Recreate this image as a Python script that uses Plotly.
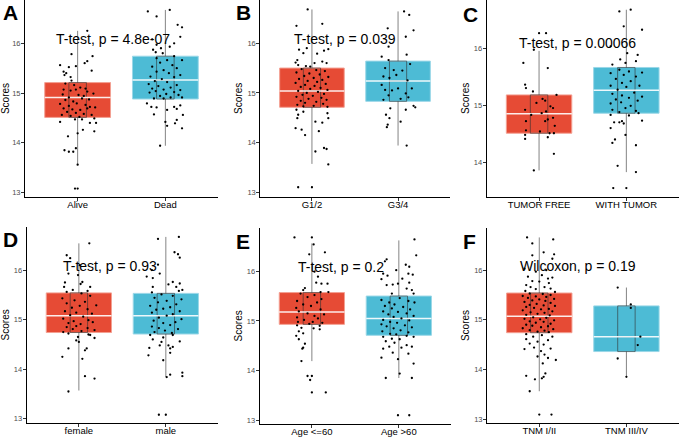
import plotly.graph_objects as go

W, H = 685, 445
RED = "#E64B35"
BLUE = "#4DBBD5"
RED_EDGE = "#F3A093"
BLUE_EDGE = "#9AD7E7"
FONT = "Liberation Sans, Arial, sans-serif"

# ---------------- Panel A ----------------
A_labels = ["Alive", "Dead"]
A_q1 = [14.51, 14.88]
A_med = [14.91, 15.26]
A_q3 = [15.21, 15.74]
A_lo = [13.55, 13.94]
A_hi = [16.25, 16.67]
A_test = "T-test, p = 4.8e-07"
A_g1 = [(16.25, 0.11), (15.78, -0.07), (15.74, 0.17), (15.64, 0.11), (15.60, 0.08), (15.56, -0.20), (15.54, -0.02),
        (15.52, -0.10), (15.43, -0.16), (15.40, -0.13), (15.36, -0.15), (15.45, 0.16), (15.32, -0.08), (15.25, -0.07),
        (15.19, -0.14), (15.16, -0.04), (15.11, 0.03), (15.09, 0.09), (15.07, -0.16), (15.05, -0.08), (15.07, -0.02),
        (15.03, 0.11), (14.99, 0.18), (14.97, -0.17), (14.96, 0.01), (14.94, 0.07), (14.91, -0.10), (14.89, 0.05),
        (14.87, 0.13), (14.86, -0.14), (14.83, -0.05), (14.79, -0.01), (14.78, -0.20), (14.76, 0.09), (14.74, -0.10),
        (14.72, 0.14), (14.71, 0.20), (14.69, -0.16), (14.67, -0.06), (14.66, 0.03), (14.69, 0.11), (14.62, -0.12),
        (14.60, -0.02), (14.58, 0.07), (14.56, -0.18), (14.54, -0.08), (14.56, 0.16), (14.52, 0.02),
        (14.47, -0.03), (14.47, 0.05), (14.49, 0.19), (14.40, 0.14), (14.42, -0.20), (14.40, 0.21), (14.26, 0.06),
        (14.23, 0.19), (14.19, 0.00), (14.13, -0.11), (13.85, -0.15), (13.82, -0.10), (13.82, -0.05), (13.89, -0.02),
        (13.56, 0.00), (13.08, -0.03), (13.08, 0.00)]
A_g2 = [(16.64, -0.20), (16.67, 0.05), (16.54, -0.10), (16.37, 0.14), (16.32, 0.19), (16.13, 0.17), (16.08, -0.15),
        (15.97, -0.10), (16.00, 0.10), (15.90, -0.05), (15.93, 0.05), (15.87, -0.14), (15.80, -0.03), (15.82, -0.11),
        (15.74, 0.10), (15.66, 0.19),
        (15.70, -0.10), (15.66, 0.02), (15.61, -0.06), (15.56, 0.08), (15.53, -0.15), (15.50, 0.13), (15.46, -0.02),
        (15.43, -0.10), (15.40, 0.04), (15.36, 0.17), (15.33, -0.17), (15.32, 0.10), (15.28, -0.04), (15.24, -0.12),
        (15.22, 0.02), (15.18, -0.19), (15.16, 0.13), (15.14, -0.08), (15.11, 0.06), (15.09, -0.15), (15.07, -0.02),
        (15.06, 0.17), (15.04, -0.11), (15.02, 0.10), (15.01, -0.18), (14.98, 0.01), (14.96, 0.15), (14.94, -0.06),
        (14.91, 0.06), (14.89, -0.13), (14.91, 0.19), (14.89, -0.02),
        (14.79, -0.21), (14.72, -0.16), (14.71, -0.10), (14.72, 0.10), (14.75, 0.17), (14.68, 0.13), (14.66, 0.02),
        (14.56, 0.20), (14.57, -0.13), (14.46, 0.13), (14.42, 0.00), (14.34, 0.02), (14.39, 0.11), (14.29, 0.19),
        (13.94, -0.06)]

# ---------------- Panel B ----------------
B_labels = ["G1/2", "G3/4"]
B_q1 = [14.71, 14.83]
B_med = [15.04, 15.24]
B_q3 = [15.50, 15.64]
B_lo = [13.57, 13.94]
B_hi = [16.68, 16.64]
B_test = "T-test, p = 0.039"
B_g1 = [(16.68, -0.05), (16.35, -0.18), (16.39, 0.12), (15.87, -0.15), (15.90, -0.06), (15.85, 0.14), (15.88, 0.19),
        (15.80, -0.10), (15.79, 0.06), (15.66, -0.17), (15.61, -0.19), (15.56, -0.16), (15.60, 0.03), (15.63, 0.12),
        (15.60, 0.17), (15.54, -0.07), (15.53, -0.02),
        (15.48, -0.12), (15.46, 0.05), (15.44, 0.15), (15.41, -0.18), (15.39, -0.03), (15.37, 0.09), (15.34, -0.09),
        (15.32, 0.19), (15.30, 0.02), (15.28, -0.15), (15.26, 0.12), (15.24, -0.05), (15.22, 0.06), (15.20, -0.19),
        (15.18, 0.16), (15.16, -0.08), (15.14, 0.03), (15.12, -0.13), (15.10, 0.10), (15.08, -0.02), (15.06, 0.18),
        (15.04, -0.16), (15.02, 0.07), (15.00, -0.06), (14.98, 0.14), (14.96, -0.11), (14.94, 0.01), (14.92, -0.18),
        (14.90, 0.11), (14.88, -0.04), (14.86, 0.17), (14.84, -0.13), (14.82, 0.05), (14.80, -0.08), (14.78, 0.13),
        (14.76, -0.17), (14.74, 0.02), (14.73, -0.10), (14.72, 0.18),
        (14.66, -0.18), (14.62, -0.10), (14.56, -0.16), (14.59, 0.18), (14.49, -0.17), (14.49, 0.19), (14.42, 0.04),
        (14.40, 0.12), (14.29, -0.19), (14.26, -0.12), (14.15, -0.08), (14.23, 0.08), (13.89, 0.14), (13.87, 0.17),
        (13.82, 0.04), (13.56, 0.19), (13.10, -0.16), (13.10, 0.00)]
B_g2 = [(16.64, 0.07), (16.57, 0.13), (16.26, 0.18), (16.30, -0.12), (16.13, 0.09), (15.93, -0.11), (15.77, 0.10),
        (15.73, -0.19), (15.66, -0.11),
        (15.58, 0.14), (15.50, -0.15), (15.46, -0.05), (15.45, 0.05), (15.33, -0.17), (15.30, -0.10), (15.36, -0.02),
        (15.25, 0.11), (15.16, -0.19), (15.09, 0.00), (15.09, 0.16), (15.06, -0.15), (15.05, -0.07), (14.99, 0.09),
        (14.95, -0.11), (14.86, -0.17), (14.88, 0.03), (14.91, 0.12),
        (14.74, 0.18), (14.71, 0.20), (14.69, -0.09), (14.66, 0.09), (14.56, -0.14), (14.49, -0.10), (14.42, 0.03),
        (14.36, -0.12), (14.31, -0.13), (13.94, 0.10)]

# ---------------- Panel C ----------------
C_labels = ["TUMOR FREE", "WITH TUMOR"]
C_q1 = [14.51, 14.86]
C_med = [14.85, 15.26]
C_q3 = [15.18, 15.66]
C_lo = [13.86, 13.83]
C_hi = [15.95, 16.67]
C_test = "T-test, p = 0.00066"
C_g1 = [(16.26, 0.00), (16.26, 0.08), (15.97, -0.06), (15.74, -0.18), (15.65, 0.10), (15.36, -0.16), (15.30, -0.15),
        (15.24, -0.07), (15.18, 0.20), (15.11, 0.04), (15.08, 0.07), (15.04, -0.03), (14.98, 0.13), (14.95, 0.16),
        (14.92, -0.16), (14.89, 0.08), (14.86, 0.03), (14.83, -0.09), (14.78, 0.16), (14.72, 0.07), (14.75, 0.10),
        (14.72, -0.15), (14.64, 0.18), (14.56, -0.15), (14.51, 0.12), (14.51, 0.17), (14.54, 0.01), (14.48, -0.16),
        (14.41, -0.16), (14.44, 0.10), (14.15, 0.17), (13.86, -0.06)]
C_g2 = [(16.64, -0.08), (16.67, 0.05), (16.38, -0.03), (16.32, 0.18), (16.03, -0.18), (15.91, 0.01), (15.88, 0.13),
        (15.80, -0.07), (15.77, 0.11), (15.74, -0.01), (15.71, -0.16),
        (15.62, -0.08), (15.59, 0.03), (15.57, 0.18), (15.56, -0.18), (15.53, -0.03), (15.50, 0.11), (15.46, -0.12),
        (15.42, 0.05), (15.39, -0.05), (15.34, -0.18), (15.34, 0.15), (15.32, 0.00), (15.27, -0.10), (15.22, 0.09),
        (15.20, -0.16), (15.17, -0.05), (15.15, 0.18), (15.13, 0.03), (15.10, -0.12), (15.08, 0.13), (15.05, -0.06),
        (15.03, -0.18), (14.99, 0.05), (14.95, -0.01), (14.92, -0.16), (14.90, 0.11), (14.88, -0.08),
        (14.83, -0.18), (14.82, 0.03), (14.86, 0.14), (14.73, 0.18), (14.70, -0.14), (14.70, -0.08), (14.72, -0.05),
        (14.68, -0.03), (14.60, -0.18), (14.40, -0.13), (14.48, -0.01), (14.34, -0.16), (14.30, 0.11), (13.83, 0.11),
        (13.94, -0.10), (13.55, -0.15), (13.55, 0.00)]

# ---------------- Panel D ----------------
D_labels = ["female", "male"]
D_q1 = [14.74, 14.71]
D_med = [15.08, 15.08]
D_q3 = [15.54, 15.53]
D_lo = [13.57, 13.84]
D_hi = [16.54, 16.67]
D_test = "T-test, p = 0.93"
D_g1 = [(16.54, 0.12), (16.30, -0.14), (16.24, -0.10), (16.10, 0.01), (15.93, -0.12), (15.90, -0.01), (15.76, 0.04),
        (15.75, -0.16), (15.72, 0.02), (15.66, 0.13), (15.66, -0.17), (15.60, -0.07), (15.58, 0.10),
        (15.56, -0.14), (15.53, 0.03), (15.48, 0.13), (15.43, -0.19), (15.39, -0.05), (15.36, 0.07), (15.33, -0.14),
        (15.29, 0.20), (15.28, 0.01), (15.24, -0.08), (15.21, 0.10), (15.17, -0.16), (15.14, -0.03), (15.12, 0.15),
        (15.09, -0.10), (15.06, 0.05), (15.02, -0.18), (14.99, 0.11), (14.97, -0.06), (14.95, 0.16), (14.93, -0.12),
        (14.91, 0.02), (14.87, -0.03), (14.85, -0.14), (14.83, 0.10), (14.81, -0.07), (14.79, 0.18), (14.77, 0.03),
        (14.75, -0.18),
        (14.72, -0.12), (14.70, 0.11), (14.69, 0.13), (14.63, 0.18), (14.65, -0.01), (14.58, -0.03), (14.55, 0.00),
        (14.38, 0.07), (14.42, 0.09), (14.42, -0.12), (14.25, -0.19), (14.21, 0.04), (13.86, 0.07), (13.81, 0.18),
        (13.55, -0.12)]
D_g2 = [(16.63, -0.09), (16.67, 0.15), (16.36, 0.10), (16.32, 0.14), (16.25, 0.16), (16.11, -0.09), (16.00, -0.16),
        (15.93, -0.07), (15.87, -0.22), (15.84, -0.15), (15.76, 0.08), (15.73, 0.16), (15.71, 0.03), (15.66, 0.12),
        (15.66, -0.15), (15.60, 0.19), (15.58, 0.15), (15.55, -0.16),
        (15.51, -0.05), (15.48, 0.08), (15.44, -0.13), (15.41, 0.18), (15.38, 0.01), (15.35, -0.09), (15.31, 0.12),
        (15.28, -0.18), (15.25, 0.05), (15.22, -0.03), (15.20, -0.11), (15.17, 0.16), (15.14, -0.16), (15.11, 0.08),
        (15.08, 0.01), (15.04, -0.08), (15.01, 0.18), (14.98, -0.14), (14.95, 0.11), (14.93, -0.03), (14.89, 0.05),
        (14.86, -0.16), (14.83, -0.08), (14.81, 0.14), (14.78, -0.01), (14.75, -0.13), (14.73, 0.07),
        (14.69, -0.18), (14.69, 0.08), (14.64, -0.03), (14.60, -0.15), (14.55, -0.05), (14.56, 0.16), (14.48, -0.07),
        (14.48, 0.03), (14.45, 0.08), (14.43, -0.19), (14.42, 0.05), (14.28, -0.20), (14.33, 0.05), (14.18, -0.03),
        (13.89, 0.05), (13.93, 0.19), (13.86, 0.19), (13.84, 0.01), (13.08, -0.08), (13.08, 0.00)]

# ---------------- Panel E ----------------
E_labels = ["Age <=60", "Age >60"]
E_q1 = [14.93, 14.71]
E_med = [15.18, 15.05]
E_q3 = [15.57, 15.50]
E_lo = [14.19, 13.85]
E_hi = [16.56, 16.62]
E_test = "T-test, p = 0.2"
E_g1 = [(16.68, -0.20), (16.68, 0.00), (16.54, 0.02), (16.38, 0.15), (16.34, -0.03), (15.99, 0.03), (15.89, 0.07),
        (15.77, 0.05), (15.75, 0.18), (15.75, 0.11), (15.66, -0.08), (15.62, -0.10), (15.58, 0.10), (15.58, 0.19),
        (15.55, -0.13), (15.52, 0.03), (15.48, -0.05), (15.44, 0.11), (15.40, -0.17), (15.37, 0.06), (15.33, -0.10),
        (15.30, -0.01), (15.26, -0.18), (15.23, 0.10), (15.19, -0.15), (15.15, -0.05), (15.13, 0.14), (15.10, 0.03),
        (15.07, -0.17), (15.05, 0.07), (15.02, -0.09), (14.98, -0.16), (14.98, 0.01), (14.96, 0.12), (14.94, -0.03),
        (14.91, -0.17), (14.90, 0.09), (14.86, -0.12), (14.85, 0.02), (14.79, -0.15), (14.83, 0.09), (14.75, -0.10),
        (14.70, -0.18), (14.63, -0.15), (14.54, -0.08), (14.46, -0.10), (14.44, -0.11), (14.19, -0.12),
        (13.89, -0.05), (13.89, 0.00), (13.81, -0.02), (13.56, 0.00), (13.56, 0.16)]
E_g2 = [(16.64, 0.18), (16.24, -0.14), (16.20, -0.16), (16.32, 0.20), (16.13, 0.08), (16.09, 0.12), (15.95, -0.18),
        (15.91, -0.13), (16.02, -0.03), (15.95, 0.11), (15.93, 0.16), (15.84, -0.20), (15.73, -0.07), (15.75, -0.01),
        (15.85, 0.04), (15.77, 0.12), (15.72, -0.14), (15.65, 0.09), (15.62, 0.15), (15.55, 0.17), (15.55, -0.08),
        (15.42, -0.20), (15.46, 0.01), (15.40, 0.11), (15.37, -0.11), (15.37, 0.18), (15.33, -0.05), (15.30, -0.16),
        (15.28, 0.05), (15.25, -0.08), (15.23, 0.13), (15.19, -0.18), (15.18, -0.01), (15.15, 0.09), (15.13, -0.12),
        (15.10, 0.17), (15.08, -0.06), (15.05, 0.03), (15.02, -0.18), (15.01, 0.12), (14.98, -0.10), (14.96, -0.02),
        (14.93, -0.20), (14.91, 0.07), (14.89, -0.14), (14.87, 0.15), (14.85, -0.06), (14.81, 0.02), (14.79, -0.19),
        (14.77, 0.11), (14.74, -0.10), (14.73, -0.03),
        (14.68, -0.18), (14.70, 0.09), (14.68, 0.17), (14.64, -0.08), (14.63, 0.01), (14.59, -0.15), (14.56, -0.05),
        (14.51, 0.09), (14.48, -0.11), (14.48, 0.15), (14.44, -0.18), (14.46, 0.03), (14.36, -0.07), (14.34, 0.11),
        (14.26, -0.20), (14.23, -0.01), (14.14, 0.17), (13.85, -0.15), (13.85, 0.15), (13.94, 0.01), (13.10, -0.01),
        (13.10, 0.12)]

# ---------------- Panel F ----------------
F_labels = ["TNM I/II", "TNM III/IV"]
F_q1 = [14.74, 14.36]
F_med = [15.07, 14.66]
F_q3 = [15.54, 15.28]
F_lo = [13.56, 13.85]
F_hi = [16.66, 15.65]
F_test = "Wilcoxon, p = 0.19"
F_g1 = [(16.66, -0.14), (16.62, 0.16), (16.54, -0.08), (16.36, 0.05), (16.32, 0.17), (16.23, 0.15), (16.30, -0.08),
        (16.03, -0.17), (15.97, -0.04), (16.00, 0.08), (15.90, 0.03), (15.87, -0.13), (15.83, 0.10), (15.85, 0.15),
        (15.78, -0.08), (15.77, 0.00), (15.74, 0.11), (15.70, -0.15), (15.66, -0.10), (15.66, 0.06), (15.63, 0.13),
        (15.62, -0.04), (15.58, -0.16), (15.56, 0.18),
        (15.53, -0.11), (15.52, 0.04), (15.50, 0.13), (15.48, -0.19), (15.47, -0.04), (15.46, 0.08), (15.44, -0.13),
        (15.42, 0.17), (15.41, 0.00), (15.39, -0.08), (15.38, 0.07), (15.36, -0.17), (15.34, 0.13), (15.32, -0.03),
        (15.30, -0.11), (15.29, 0.05), (15.28, 0.18), (15.26, -0.15), (15.24, -0.06), (15.22, 0.11), (15.21, 0.02),
        (15.19, -0.19), (15.17, 0.15), (15.15, -0.10), (15.14, 0.06), (15.12, -0.02), (15.10, -0.15), (15.09, 0.12),
        (15.05, -0.07), (15.04, 0.08), (15.02, -0.17), (15.01, 0.01), (14.99, 0.17), (14.97, -0.11), (14.96, 0.05),
        (14.94, -0.04), (14.92, 0.13), (14.90, -0.15), (14.88, -0.08), (14.87, 0.10), (14.85, 0.02), (14.83, -0.19),
        (14.81, 0.16), (14.79, -0.11), (14.78, 0.06), (14.76, -0.02), (14.75, 0.11),
        (14.71, -0.15), (14.69, 0.03), (14.66, -0.07), (14.66, 0.15), (14.61, -0.15), (14.59, 0.10), (14.56, -0.02),
        (14.52, -0.11), (14.50, 0.05), (14.44, -0.06), (14.41, -0.17), (14.42, 0.13), (14.37, 0.02), (14.30, 0.06),
        (14.26, -0.02), (14.23, 0.10), (14.19, 0.19), (14.12, 0.04), (13.92, 0.07), (13.85, 0.05), (13.82, 0.03),
        (13.87, -0.15), (13.80, -0.05), (13.56, -0.11), (13.09, 0.00), (13.09, 0.14)]
F_g2 = [(15.65, -0.10), (15.31, 0.05), (15.24, 0.05), (14.66, 0.16), (14.49, 0.13), (14.22, -0.10), (13.85, 0.00)]

# ---------------- layout geometry (pixels) ----------------
panels = [
    dict(letter="A", labels=A_labels, q1=A_q1, med=A_med, q3=A_q3, lo=A_lo, hi=A_hi, test=A_test, g=[A_g1, A_g2],
         px=(25, 218), py=(0, 197), yr=(12.91, 16.87), yt=[13, 14, 15, 16], tx=-0.27, lx=1, ly=3),
    dict(letter="B", labels=B_labels, q1=B_q1, med=B_med, q3=B_q3, lo=B_lo, hi=B_hi, test=B_test, g=[B_g1, B_g2],
         px=(260.3, 449.7), py=(0, 196.7), yr=(12.91, 16.87), yt=[13, 14, 15, 16], tx=-0.23, lx=234, ly=3),
    dict(letter="C", labels=C_labels, q1=C_q1, med=C_med, q3=C_q3, lo=C_lo, hi=C_hi, test=C_test, g=[C_g1, C_g2],
         px=(486.7, 678.7), py=(0, 196.7), yr=(13.40, 16.84), yt=[14, 15, 16], tx=-0.25, lx=461, ly=5),
    dict(letter="D", labels=D_labels, q1=D_q1, med=D_med, q3=D_q3, lo=D_lo, hi=D_hi, test=D_test, g=[D_g1, D_g2],
         px=(26.7, 218), py=(227, 422.7), yr=(12.92, 16.87), yt=[13, 14, 15, 16], tx=-0.21, lx=1, ly=230),
    dict(letter="E", labels=E_labels, q1=E_q1, med=E_med, q3=E_q3, lo=E_lo, hi=E_hi, test=E_test, g=[E_g1, E_g2],
         px=(259.7, 451), py=(228, 423.7), yr=(12.93, 16.87), yt=[13, 14, 15, 16], tx=-0.18, lx=234, ly=232),
    dict(letter="F", labels=F_labels, q1=F_q1, med=F_med, q3=F_q3, lo=F_lo, hi=F_hi, test=F_test, g=[F_g1, F_g2],
         px=(487, 678.7), py=(228, 423), yr=(12.92, 16.85), yt=[13, 14, 15, 16], tx=-0.25, lx=461, ly=232),
]

WIDE = 0.75
NARROW = 0.2
cats = [0, 1]

fig = go.Figure()
annotations = []
layout_axes = {}

for k, p in enumerate(panels, start=1):
    xa = "x" if k == 1 else f"x{k}"
    ya = "y" if k == 1 else f"y{k}"
    # wide coloured quartile band
    fig.add_trace(go.Bar(
        x=cats, y=[b - a for a, b in zip(p["q1"], p["q3"])], base=p["q1"], width=WIDE,
        marker=dict(color=[RED, BLUE], line=dict(color=[RED_EDGE, BLUE_EDGE], width=1)),
        xaxis=xa, yaxis=ya, hoverinfo="skip", showlegend=False))
    # white median line on band
    mx, my = [], []
    for c, m in zip(cats, p["med"]):
        mx += [c - WIDE / 2, c + WIDE / 2, None]
        my += [m, m, None]
    fig.add_trace(go.Scatter(x=mx, y=my, mode="lines", line=dict(color="rgba(255,255,255,0.9)", width=1.5),
                             xaxis=xa, yaxis=ya, hoverinfo="skip", showlegend=False))
    # narrow boxplot
    fig.add_trace(go.Box(
        x=cats, q1=p["q1"], median=p["med"], q3=p["q3"], lowerfence=p["lo"], upperfence=p["hi"],
        width=NARROW, whiskerwidth=0, boxpoints=False, fillcolor="rgba(0,0,0,0)",
        line=dict(color="rgba(50,50,50,0.6)", width=1),
        xaxis=xa, yaxis=ya, hoverinfo="skip", showlegend=False))
    # jittered points
    px_, py_ = [], []
    for c, grp in zip(cats, p["g"]):
        for yv, dx in grp:
            px_.append(c + dx)
            py_.append(yv)
    fig.add_trace(go.Scatter(x=px_, y=py_, mode="markers", marker=dict(color="black", size=2.3),
                             xaxis=xa, yaxis=ya, hoverinfo="skip", showlegend=False))

    x0, x1 = p["px"]
    y0, y1 = p["py"]
    layout_axes["xaxis" if k == 1 else f"xaxis{k}"] = dict(
        domain=[x0 / W, x1 / W], anchor=ya, range=[-0.6, 1.6], tickvals=cats, ticktext=p["labels"],
        showline=True, linecolor="black", linewidth=1, ticks="outside", ticklen=3, tickcolor="#333333",
        ticklabelstandoff=-4,
        tickfont=dict(size=9.5, color="black", family=FONT), showgrid=False, zeroline=False, fixedrange=True)
    layout_axes["yaxis" if k == 1 else f"yaxis{k}"] = dict(
        domain=[1 - y1 / H, 1 - y0 / H], anchor=xa, range=list(p["yr"]), tickvals=p["yt"],
        showline=True, linecolor="black", linewidth=1, ticks="outside", ticklen=3, tickcolor="#333333",
        ticklabelstandoff=-1,
        tickfont=dict(size=7.5, color="#4D4D4D", family=FONT), showgrid=False, zeroline=False,
        title=dict(text="Scores", font=dict(size=10, color="black", family=FONT), standoff=2), fixedrange=True)

    annotations.append(dict(x=p["tx"], y=16.09, xref=xa, yref=ya, text=p["test"], showarrow=False,
                            xanchor="left", yanchor="middle", font=dict(size=14, color="black", family=FONT)))
    annotations.append(dict(x=p["lx"] / W, y=1 - (p["ly"] - 4) / H, xref="paper", yref="paper",
                            text=f"<b>{p['letter']}</b>", showarrow=False, xanchor="left", yanchor="top",
                            font=dict(size=21, color="black", family=FONT)))

fig.update_layout(
    width=W, height=H, margin=dict(l=0, r=0, t=0, b=0),
    paper_bgcolor="white", plot_bgcolor="white", showlegend=False, hovermode=False,
    annotations=annotations, font=dict(family=FONT), **layout_axes)

fig.write_html("out.html", config={"displayModeBar": False, "staticPlot": True},
               post_script="document.body.style.margin='0px';document.body.style.overflow='hidden';")
